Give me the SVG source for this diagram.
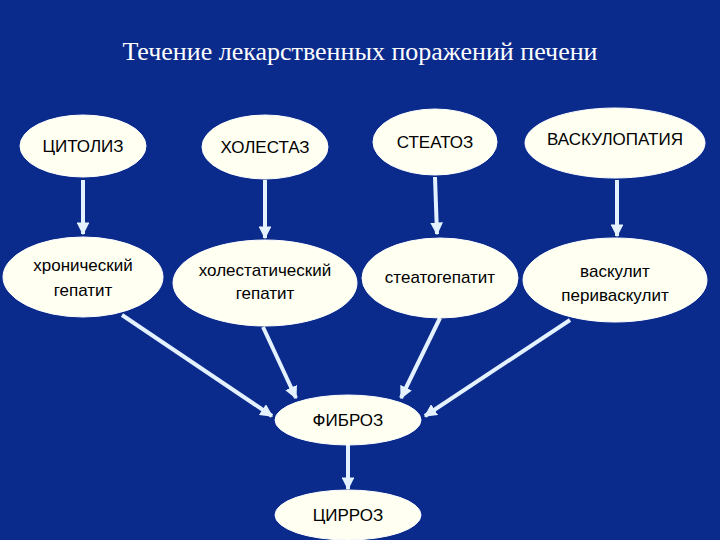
<svg xmlns="http://www.w3.org/2000/svg" width="720" height="540" viewBox="0 0 720 540">
<defs>
<marker id="ah" viewBox="0 0 10 10" refX="9" refY="5" markerWidth="3.2" markerHeight="3.2" orient="auto" markerUnits="strokeWidth"><path d="M0,0 L10,5 L0,10 z" fill="#e4f2ff"/></marker>
</defs>
<style>
.n ellipse{fill:#fffff2;stroke:#ffffff;stroke-width:1}
.n text{font-family:"Liberation Sans",Arial,sans-serif;font-size:17px;fill:#000;text-anchor:middle}
.c line{stroke:#e4f2ff;stroke-width:4;marker-end:url(#ah)}
</style>
<rect width="720" height="540" fill="#0a2a8c"/>
<text x="360" y="60" font-family="'Liberation Serif','Times New Roman',serif" font-size="26" fill="#fff" text-anchor="middle">Течение лекарственных поражений печени</text>
<g class="c">
<line x1="83" y1="180" x2="83" y2="234"/>
<line x1="265" y1="180" x2="265" y2="238"/>
<line x1="435" y1="177" x2="437" y2="234"/>
<line x1="617" y1="180" x2="617" y2="236"/>
<line x1="122" y1="315" x2="272" y2="416"/>
<line x1="263" y1="327" x2="296" y2="398"/>
<line x1="440" y1="318" x2="401" y2="398"/>
<line x1="570" y1="320" x2="425" y2="416"/>
<line x1="348" y1="445" x2="348" y2="489"/>
</g>
<g id="n1" class="n"><ellipse cx="83" cy="146" rx="63" ry="31"/><text x="83" y="152">ЦИТОЛИЗ</text></g>
<g id="n2" class="n"><ellipse cx="265" cy="147" rx="63" ry="32"/><text x="265" y="153">ХОЛЕСТАЗ</text></g>
<g id="n3" class="n"><ellipse cx="435" cy="142" rx="62" ry="33"/><text x="435" y="148">СТЕАТОЗ</text></g>
<g id="n4" class="n"><ellipse cx="615" cy="143" rx="90" ry="35"/><text x="615" y="145">ВАСКУЛОПАТИЯ</text></g>
<g id="n5" class="n"><ellipse cx="83" cy="277" rx="80" ry="40"/><text x="83" y="271">хронический</text><text x="83" y="296">гепатит</text></g>
<g id="n6" class="n"><ellipse cx="265" cy="283" rx="92" ry="43"/><text x="265" y="276">холестатический</text><text x="265" y="299">гепатит</text></g>
<g id="n7" class="n"><ellipse cx="440" cy="278" rx="78" ry="40"/><text x="440" y="283">стеатогепатит</text></g>
<g id="n8" class="n"><ellipse cx="615" cy="280" rx="92" ry="42"/><text x="615" y="277">васкулит</text><text x="615" y="301">периваскулит</text></g>
<g id="n9" class="n"><ellipse cx="348" cy="420" rx="73" ry="25"/><text x="348" y="426">ФИБРОЗ</text></g>
<g id="n10" class="n"><ellipse cx="348" cy="515" rx="73" ry="25"/><text x="348" y="521">ЦИРРОЗ</text></g>
</svg>
